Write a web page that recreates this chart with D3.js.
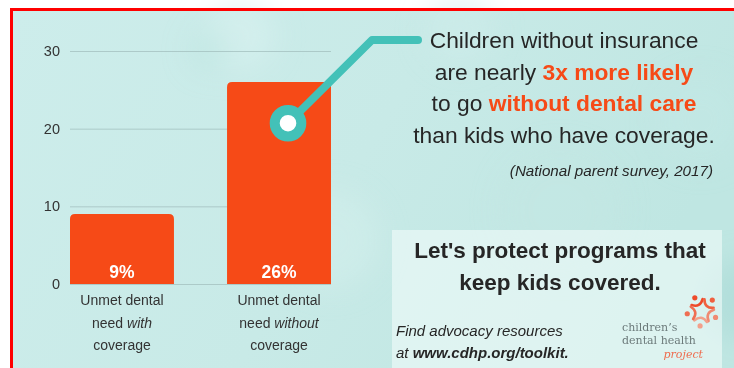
<!DOCTYPE html>
<html><head><meta charset="utf-8">
<script src="https://cdn.jsdelivr.net/npm/d3@7"></script>
<style>
html,body{margin:0;padding:0;background:#fff;}
svg{display:block;font-family:"Liberation Sans",Arial,sans-serif;}
</style></head>
<body>
<svg id="chart" width="734" height="368"></svg>
<script>
// ---- data ----
const categories = ["with", "without"];
const values = [9, 26];
const valueLabels = ["9%", "26%"];
const yTicks = [0, 10, 20, 30];
const categoryLines = [
  [[["Unmet dental", false]], [["need ", false], ["with", true]], [["coverage", false]]],
  [[["Unmet dental", false]], [["need ", false], ["without", true]], [["coverage", false]]]
];
const headlineLines = [
  [["Children without insurance", false]],
  [["are nearly ", false], ["3x more likely", true]],
  [["to go ", false], ["without dental care", true]],
  [["than kids who have coverage.", false]]
];
const sourceText = "(National parent survey, 2017)";
const callLines = ["Let's protect programs that", "keep kids covered."];

const svg = d3.select("#chart");
const W = 734, H = 368;
const ORANGE = "#f64a17", TEAL = "#43c1b8", DARK = "#262626";

// ---- background ----
const defs = svg.append("defs");
const bgGrad = defs.append("linearGradient").attr("id","bgg").attr("x1","0").attr("y1","0").attr("x2","1").attr("y2","0.3");
bgGrad.append("stop").attr("offset","0").attr("stop-color","#cdedeb");
bgGrad.append("stop").attr("offset","0.55").attr("stop-color","#c8eae7");
bgGrad.append("stop").attr("offset","1").attr("stop-color","#bfe6e2");
const blur = defs.append("filter").attr("id","blur").attr("x","-50%").attr("y","-50%").attr("width","200%").attr("height","200%");
blur.append("feGaussianBlur").attr("stdDeviation", 14);

svg.append("rect").attr("x",11).attr("y",9).attr("width",W).attr("height",H).attr("fill","url(#bgg)");
const blobs = [
  [240,35,35,"#d9f2f0",0.6],[210,50,20,"#b5e1dd",0.4],
  [330,240,50,"#d3efed",0.5],[560,210,60,"#c3e8e4",0.5],[700,120,45,"#c4e8e5",0.4],
  [460,30,35,"#d0eeeb",0.5],[745,300,40,"#acdcd7",0.7]
];
const bgG = svg.append("g").attr("filter","url(#blur)");
blobs.forEach(b => bgG.append("circle").attr("cx",b[0]).attr("cy",b[1]).attr("r",b[2]).attr("fill",b[3]).attr("opacity",b[4]));

// ---- scales ----
const y = d3.scaleLinear().domain([0, 30]).range([284, 51]);
const x = d3.scaleBand().domain(categories).range([70, 331]).paddingInner(0.338).paddingOuter(0);

// gridlines + axis labels
const axis = d3.axisLeft(y).tickValues(yTicks).tickSize(-(331-70)).tickPadding(10).tickFormat(d3.format("d"));
const ag = svg.append("g").attr("transform","translate(70,0)").call(axis);
ag.select(".domain").remove();
ag.selectAll(".tick line").attr("stroke","#9fbcbb").attr("stroke-opacity",0.7).attr("stroke-width",1);
ag.selectAll(".tick text").attr("fill","#333").attr("font-size",14.5).attr("font-family","Liberation Sans, Arial, sans-serif");

// bars with rounded top corners
const r = 5;
function barPath(x0, w, yTop, yBot){
  return `M${x0},${yBot} L${x0},${yTop+r} Q${x0},${yTop} ${x0+r},${yTop} L${x0+w-r},${yTop} Q${x0+w},${yTop} ${x0+w},${yTop+r} L${x0+w},${yBot} Z`;
}
svg.append("g").selectAll("path").data(values).join("path")
  .attr("d",(d,i)=>barPath(x(categories[i]), x.bandwidth(), y(d), y(0)))
  .attr("fill", ORANGE);

svg.append("g").selectAll("text").data(valueLabels).join("text")
  .attr("x",(d,i)=>x(categories[i]) + x.bandwidth()/2)
  .attr("y", 278)
  .attr("text-anchor","middle").attr("fill","#fff").attr("font-weight","bold").attr("font-size",17.5)
  .text(d=>d);

// category labels
categoryLines.forEach((lines,i)=>{
  const t = svg.append("text").attr("text-anchor","middle").attr("fill","#333").attr("font-size",14);
  lines.forEach((segs,li)=>{
    segs.forEach((s,si)=>{
      const ts = t.append("tspan").text(s[0]).attr("font-style", s[1] ? "italic" : "normal");
      if(si===0) ts.attr("x", x(categories[i]) + x.bandwidth()/2).attr("y", 305 + li*22.5);
    });
  });
});

// connector
const cx = x(categories[1]) + x.bandwidth()/2 + 9, cy = y(20.7);
svg.append("path").attr("d",`M${cx},${cy} L372,40 L418,40`)
  .attr("fill","none").attr("stroke",TEAL).attr("stroke-width",8).attr("stroke-linecap","round").attr("stroke-linejoin","round");
svg.append("circle").attr("cx",cx).attr("cy",cy).attr("r",13.3).attr("fill","#fff").attr("stroke",TEAL).attr("stroke-width",10);

// headline
const hl = svg.append("text").attr("text-anchor","middle").attr("font-size",22.8).attr("fill",DARK);
headlineLines.forEach((segs,li)=>{
  segs.forEach((s,si)=>{
    const ts = hl.append("tspan").text(s[0]);
    if(s[1]) ts.attr("fill", ORANGE).attr("font-weight","bold");
    if(si===0) ts.attr("x",564).attr("y",48 + li*31.6);
  });
});
svg.append("text").attr("x",713).attr("y",176).attr("text-anchor","end")
  .attr("font-style","italic").attr("font-size",15.2).attr("fill",DARK).text(sourceText);

// call-to-action box
svg.append("rect").attr("x",392).attr("y",230).attr("width",330).attr("height",150).attr("fill","#f2fbfa").attr("opacity",0.6);
const ct = svg.append("text").attr("text-anchor","middle").attr("font-weight","bold").attr("font-size",22.5).attr("fill",DARK);
callLines.forEach((l,i)=> ct.append("tspan").attr("x",560).attr("y",258 + i*32).text(l));

const ft = svg.append("text").attr("font-size",15).attr("font-style","italic").attr("fill",DARK);
ft.append("tspan").attr("x",396).attr("y",336).text("Find advocacy resources");
ft.append("tspan").attr("x",396).attr("y",358).text("at ");
ft.append("tspan").attr("font-weight","bold").text("www.cdhp.org/toolkit.");

// logo
const lg = svg.append("g").attr("font-family","DejaVu Serif, serif");
lg.append("text").attr("x",622).attr("y",331).attr("font-size",11).attr("fill","#6c7a7a").text("children\u2019s");
lg.append("text").attr("x",622).attr("y",344).attr("font-size",11).attr("fill","#6c7a7a").text("dental health");
lg.append("text").attr("x",703).attr("y",358).attr("text-anchor","end").attr("font-size",11).attr("font-style","italic").attr("fill","#ee6d4f").text("project");
const icon = svg.append("g").attr("transform","translate(702,311)");
const iconColors = ["#ee4a2a","#f0603f","#f08a72","#f2a08b","#ef6e52"];
const pol = (a, rr) => [rr*Math.cos(a), rr*Math.sin(a)];
d3.range(5).forEach(k=>{
  const a = -Math.PI/2 + k*2*Math.PI/5 - 0.5;
  const h = pol(a, 15);
  icon.append("circle").attr("cx",h[0]).attr("cy",h[1]).attr("r",2.6).attr("fill",iconColors[k]);
  const p0 = pol(a-0.55, 12), c = pol(a, 3.5), p1 = pol(a+0.55, 12);
  icon.append("path").attr("d",`M${p0[0]},${p0[1]} Q${c[0]},${c[1]} ${p1[0]},${p1[1]}`)
    .attr("fill","none").attr("stroke",iconColors[k]).attr("stroke-width",2.6).attr("stroke-linecap","round");
});

// red frame
svg.append("rect").attr("x",11.5).attr("y",9.5).attr("width",W+20).attr("height",H+20)
  .attr("fill","none").attr("stroke","#ff0000").attr("stroke-width",3);
</script>
</body></html>
